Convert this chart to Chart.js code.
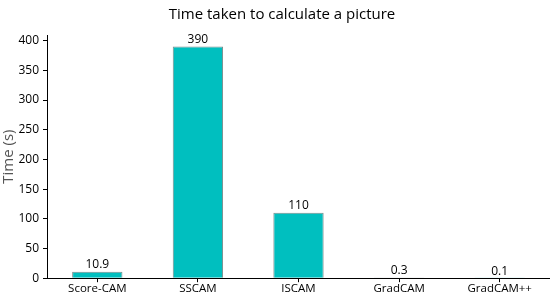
<!DOCTYPE html>
<html><head><meta charset="utf-8">
<script src="https://cdn.jsdelivr.net/npm/chart.js@4"></script>
<style>html,body{margin:0;padding:0;background:#fff}#wrap{width:550px;height:296px}</style>
</head><body><div id="wrap"><canvas id="c"></canvas></div>
<script>
const categories = ["Score-CAM", "SSCAM", "ISCAM", "GradCAM", "GradCAM++"];
const times = [10.9, 390, 110, 0.3, 0.1];
const valueLabels = ["10.9", "390", "110", "0.3", "0.1"];
const yTicks = [0, 50, 100, 150, 200, 250, 300, 350, 400];
const chartTitle = 'Time taken to calculate a picture';

const FONT = "'Open Sans', 'Noto Sans', sans-serif";

const labelPlugin = {
  id: 'valueLabels',
  afterDatasetsDraw(chart) {
    const ctx = chart.ctx;
    const meta = chart.getDatasetMeta(0);
    ctx.save();
    ctx.font = "12px " + FONT;
    ctx.fillStyle = '#000';
    ctx.textAlign = 'center';
    ctx.textBaseline = 'bottom';
    meta.data.forEach((bar, i) => {
      ctx.fillText(valueLabels[i], bar.x, bar.y - 1);
    });
    ctx.restore();
  },
  afterDraw(chart) {
    const ctx = chart.ctx;
    ctx.save();
    ctx.font = "15px " + FONT;
    ctx.fillStyle = '#000';
    ctx.textAlign = 'center';
    ctx.textBaseline = 'middle';
    ctx.fillText(chartTitle, chart.width / 2 + 7, 15);
    ctx.restore();
  }
};

new Chart(document.getElementById('c'), {
  type: 'bar',
  data: {
    labels: categories,
    datasets: [{
      data: times,
      backgroundColor: '#00BFBF',
      borderColor: 'rgba(90,110,110,0.8)',
      borderWidth: 1,
      barPercentage: 0.5,
      categoryPercentage: 1.0
    }]
  },
  options: {
    responsive: true,
    maintainAspectRatio: false,
    animation: false,
    layout: { padding: { left: 0, right: 0, top: 0, bottom: 0 } },
    plugins: {
      legend: { display: false },
      tooltip: { enabled: false },
      title: {
        display: true,
        text: chartTitle,
        color: 'rgba(0,0,0,0)',
        font: { family: FONT, size: 15, weight: 'normal' },
        padding: { top: 4, bottom: 13 }
      }
    },
    scales: {
      x: {
        offset: true,
        grid: { display: true, drawOnChartArea: false, offset: false, color: '#000', tickLength: 4, tickColor: '#000' },
        border: { display: true, color: '#000', width: 1 },
        ticks: { color: '#000', font: { family: FONT, size: 11.5 }, padding: 0, maxRotation: 0, autoSkip: false }
      },
      y: {
        min: 0,
        max: 409.5,
        afterBuildTicks: (s) => { s.ticks = yTicks.map(v => ({ value: v })); },
        grid: { display: true, drawOnChartArea: false, color: '#000', tickLength: 4, tickColor: '#000' },
        border: { display: true, color: '#000', width: 1 },
        ticks: { color: '#000', font: { family: FONT, size: 12 }, padding: 4 },
        title: { display: true, text: 'Time (s)', color: '#555', font: { family: FONT, size: 15 }, padding: { top: 0, bottom: 2 } },
        afterFit: (s) => { s.width = 47; }
      }
    }
  },
  plugins: [labelPlugin]
});
</script></body></html>
